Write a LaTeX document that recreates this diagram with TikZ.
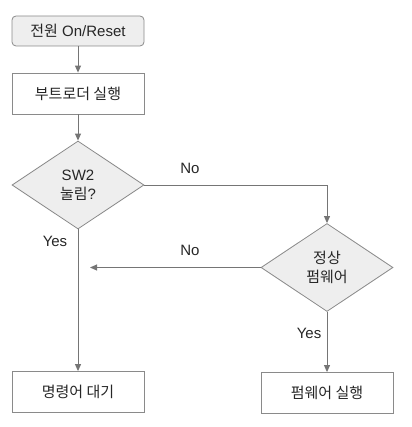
\documentclass[tikz,border=0pt]{standalone}
\usepackage{fontspec}
\setmainfont{Liberation Sans}
\newfontfamily\kr{Noto Sans CJK KR}
\usetikzlibrary{shapes.geometric,arrows.meta}
\definecolor{lngray}{HTML}{757575}
\definecolor{bdgray}{HTML}{8A8A8A}
\definecolor{fillgray}{HTML}{EEEEEE}
\begin{document}
\begin{tikzpicture}[x=1pt,y=-1pt,
  txt/.style={font=\fontsize{15}{19}\selectfont, text=black!85},
  box/.style={txt, draw=bdgray, line width=0.8pt, minimum width=132pt, minimum height=41pt, inner sep=0pt, fill=white},
  startbox/.style={box, minimum height=30pt, rounded corners=4pt, fill=fillgray},
  decision/.style={txt, diamond, draw=bdgray, line width=0.8pt, fill=fillgray, minimum width=132pt, minimum height=88pt, inner sep=0pt, align=center},
  arr/.style={draw=lngray, line width=0.9pt, -{Triangle[length=7pt,width=6pt]}, color=lngray},
  lbl/.style={txt}
]
\useasboundingbox (0,0) rectangle (411,427);
\node[startbox] (start) at (78,31) {{\kr 전원} On/Reset};
\node[box] (boot) at (78,93.5) {\kr 부트로더 실행};
\node[decision] (sw2) at (78,185) {SW2\\{\kr 눌림}?};
\node[box] (wait) at (78,392) {\kr 명령어 대기};
\node[decision] (fw) at (327,267.5) {\kr 정상\\\kr 펌웨어};
\node[box] (run) at (327,393) {\kr 펌웨어 실행};
\coordinate (noend) at (90,267.5);

\draw[arr] (start) -- (boot);
\draw[arr] (boot) -- (sw2);
\draw[arr] (sw2.east) -| (fw.north);
\draw[arr] (fw.west) -- (noend);
\draw[arr] (sw2.south) -- (wait.north);
\draw[arr] (fw.south) -- (run.north);

\node[lbl] (no1) at (190,168) {No};
\node[lbl] (no2) at (190,250) {No};
\node[lbl] (yes1) at (55,241) {Yes};
\node[lbl] (yes2) at (309,333) {Yes};
\end{tikzpicture}
\end{document}
